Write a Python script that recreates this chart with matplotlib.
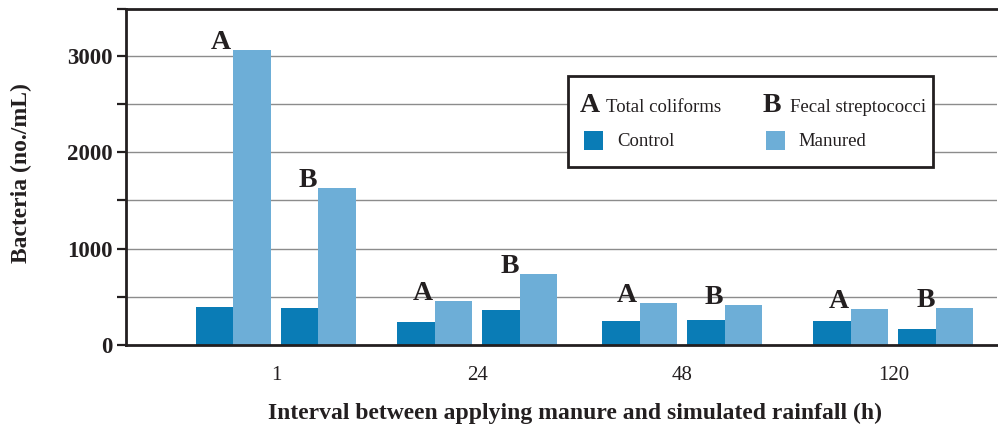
import numpy as np
import matplotlib
matplotlib.use("Agg")
from matplotlib import pyplot as plt
from matplotlib.patches import Rectangle

# bacteria counts (no./mL) by interval between manure and rainfall
intervals = ["1", "24", "48", "120"]
coli_control = [390, 240, 250, 250]
coli_manured = [3060, 455, 435, 375]
strep_control = [380, 365, 260, 165]
strep_manured = [1630, 735, 415, 385]

c_control = "#0a7cb6"
c_manured = "#6daed7"
ink = "#231f20"

plt.rcParams["font.family"] = ["Liberation Serif", "DejaVu Serif"]

W, H = 998, 430
fig = plt.figure(figsize=(W / 100, H / 100), dpi=100)

# axes box in pixels: left 126, right 997, bottom 345, top ~9
y_top = 3480
ax = fig.add_axes([126 / W, 1 - 345 / H, (997 - 126) / W, (345 - 9.3) / H])

# group centres are not quite evenly spaced
x = np.array([0.0, 0.979, 1.973, 3.0])
bw = 0.182
ax.bar(x - 0.389, coli_control, bw, align="edge", color=c_control, zorder=2)
ax.bar(x - 0.207, coli_manured, bw, align="edge", color=c_manured, zorder=2)
ax.bar(x + 0.024, strep_control, bw, align="edge", color=c_control, zorder=2)
ax.bar(x + 0.206, strep_manured, bw, align="edge", color=c_manured, zorder=2)

# A / B marks sitting on the manured bars
for i in range(len(intervals)):
    ax.text(x[i] - 0.207 - 0.06, coli_manured[i] + 10, "A", ha="center",
            va="baseline", fontsize=20, fontweight="bold", color=ink, zorder=3)
    ax.text(x[i] + 0.206 - 0.05, strep_manured[i] + 10, "B", ha="center",
            va="baseline", fontsize=20, fontweight="bold", color=ink, zorder=3)

ax.set_xlim(-0.729, 3.503)
ax.set_ylim(0, y_top)
ax.set_xticks(x)
ax.set_xticklabels(intervals, fontsize=15)
ax.tick_params(axis="x", length=0, pad=15, colors=ink)
ax.set_yticks([0, 1000, 2000, 3000])
ax.set_yticklabels(["0", "1000", "2000", "3000"], fontsize=16.5, fontweight="bold")
ax.set_yticks([500, 1500, 2500, y_top], minor=True)
ax.tick_params(axis="y", which="both", direction="out", length=6.5, width=1.6,
               pad=3, colors=ink)

for v in [500, 1000, 1500, 2000, 2500, 3000]:
    ax.axhline(v, color="#8c8c8c", lw=1.0, zorder=1)

for side in ["left", "top", "bottom"]:
    ax.spines[side].set_linewidth(2.0)
    ax.spines[side].set_color(ink)
ax.spines["right"].set_visible(False)

ax.set_xlabel("Interval between applying manure and simulated rainfall (h)",
              fontsize=17, fontweight="bold", color=ink)
ax.xaxis.set_label_coords(0.5155, -0.172)
fig.text(21 / W, 1 - 173 / H, "Bacteria (no./mL)", rotation=90, ha="center",
         va="center", fontsize=17, fontweight="bold", color=ink)

# legend drawn by hand
def fx(px):
    return px / W

def fy(py):
    return 1 - py / H

fig.add_artist(Rectangle((fx(568), fy(167)), fx(933) - fx(568), (167 - 76) / H,
                         transform=fig.transFigure, facecolor="white",
                         edgecolor=ink, lw=2.0, zorder=4))
base1 = 111.5
fig.text(fx(580), fy(base1), "A", fontsize=20, fontweight="bold", color=ink,
         va="baseline", zorder=5)
fig.text(fx(606), fy(base1), "Total coliforms", fontsize=13.5, color=ink,
         va="baseline", zorder=5)
fig.text(fx(763), fy(base1), "B", fontsize=20, fontweight="bold", color=ink,
         va="baseline", zorder=5)
fig.text(fx(790), fy(base1), "Fecal streptococci", fontsize=13.5, color=ink,
         va="baseline", zorder=5)

base2 = 146
for px, col, lab, tx in [(584, c_control, "Control", 617),
                         (766, c_manured, "Manured", 798)]:
    fig.add_artist(Rectangle((fx(px), fy(150)), 19 / W, 19 / H,
                             transform=fig.transFigure, facecolor=col,
                             edgecolor="none", zorder=5))
    fig.text(fx(tx), fy(base2), lab, fontsize=13.5, color=ink,
             va="baseline", zorder=5)

fig.savefig("out.png", dpi=100)
